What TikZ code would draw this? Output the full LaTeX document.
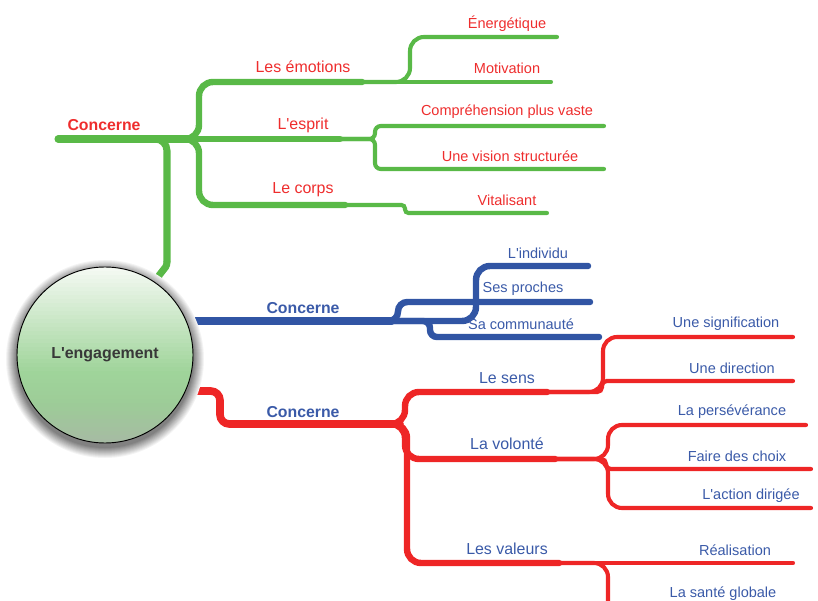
\documentclass[tikz,border=0pt]{standalone}
\usepackage{fontspec}
\setmainfont{Liberation Sans}
\definecolor{mgreen}{HTML}{59B947}
\definecolor{mred}{HTML}{EE2626}
\definecolor{mblue}{HTML}{3155A4}
\definecolor{tred}{HTML}{EE2D2D}
\definecolor{tblue}{HTML}{3A5AA8}
\definecolor{hubtop}{HTML}{F4F9F2}
\definecolor{hubmid}{HTML}{9FD49A}
\definecolor{hubmidb}{HTML}{9DCB98}
\definecolor{hubbot}{HTML}{A6BBA3}
\begin{document}
\begin{tikzpicture}[x=0.03cm, y=-0.03cm, line cap=round,
  gmain/.style={mgreen, line width=6pt, rounded corners=10pt},
  gthick/.style={mgreen, line width=5.5pt, rounded corners=12pt},
  gthin/.style={mgreen, line width=3.5pt, rounded corners=12pt},
  bmain/.style={mblue, line width=6pt},
  bthick/.style={mblue, line width=5.5pt, rounded corners=12pt},
  rmain/.style={mred, line width=6.5pt, rounded corners=8pt},
  rthick/.style={mred, line width=5.5pt, rounded corners=12pt},
  rthin/.style={mred, line width=3.5pt, rounded corners=12pt},
  lvl/.style={font=\fontsize{13.6}{16}\selectfont},
  leaf/.style={font=\fontsize{12.4}{15}\selectfont},
  rel/.style={font=\bfseries\fontsize{13.5}{16}\selectfont},
  hub/.style={circle, draw=black, line width=0.8pt, minimum size=5.28cm, inner sep=0pt,
    text=black!78, font=\bfseries\fontsize{13.6}{16}\selectfont}]
\useasboundingbox (0,0) rectangle (818,601);

\coordinate (g-s) at (58,139);
\coordinate (g-k) at (150,139);
\coordinate (g-j0) at (180,139);
\coordinate (g-j) at (193,139);
\coordinate (g-d) at (167,262);
\coordinate (g-f) at (158,280);
\coordinate (g-e) at (158,300);
\coordinate (emo-a) at (199,82);
\coordinate (emo-b) at (362,82);
\coordinate (mot-b) at (551,82);
\coordinate (ener-a) at (410,37);
\coordinate (ener-b) at (557,37);
\coordinate (esp-b) at (340,139);
\coordinate (comp-a) at (375,126);
\coordinate (comp-b) at (604,126);
\coordinate (vis-a) at (375,169);
\coordinate (vis-b) at (604,169);
\coordinate (corps-a) at (199,205);
\coordinate (corps-b) at (345,205);
\coordinate (vit-a) at (405,213);
\coordinate (vit-b) at (547,213);

\coordinate (b-s) at (150,321);
\coordinate (b-j0) at (380,321);
\coordinate (b-j) at (392,321);
\coordinate (proch-a) at (398,302);
\coordinate (proch-b) at (590,302);
\coordinate (indiv-a) at (476,266);
\coordinate (indiv-b) at (588,266);
\coordinate (comm-a) at (430,337);
\coordinate (comm-b) at (599,337);

\coordinate (r-s) at (150,391);
\coordinate (r-d) at (220,424);
\coordinate (r-j0) at (385,424);
\coordinate (r-j) at (400,424);
\coordinate (sens-a) at (405,392);
\coordinate (sens-b) at (547,392);
\coordinate (sig-a) at (603,337);
\coordinate (sig-b) at (793,337);
\coordinate (dir-a) at (602,381);
\coordinate (dir-b) at (793,381);
\coordinate (vol-a) at (405,459);
\coordinate (vol-b) at (555,459);
\coordinate (pers-a) at (608,425);
\coordinate (pers-b) at (806,425);
\coordinate (choix-a) at (606,469);
\coordinate (choix-b) at (811,469);
\coordinate (act-a) at (608,508);
\coordinate (act-b) at (811,508);
\coordinate (val-a) at (407,563);
\coordinate (val-b) at (559,563);
\coordinate (real-b) at (793,563);
\coordinate (sante-a) at (608,615);

\draw[gmain] (g-s) -- (g-j);
\draw[gmain] (g-k) -| (g-d);
\draw[gmain, sharp corners] (g-d) to[out=-90, in=90] (g-f) -- (g-e);
\draw[gthick] (g-j0) -| (emo-a) -- (emo-b);
\draw[gthin] (emo-b) -- (mot-b);
\draw[gthin] (emo-b) -| (ener-a) -- (ener-b);
\draw[gthick] (g-j) -- (esp-b);
\draw[gthin, rounded corners=5pt] (esp-b) -| (comp-a) -- (comp-b);
\draw[gthin, rounded corners=5pt] (esp-b) -| (vis-a) -- (vis-b);
\draw[gthick] (g-j0) -| (corps-a) -- (corps-b);
\draw[gthin, rounded corners=3pt] (corps-b) -| (vit-a) -- (vit-b);

\draw[bmain] (b-s) -- (b-j);
\draw[bthick, rounded corners=8pt] (b-j0) -| (proch-a) -- (proch-b);
\draw[bthick] (b-j0) -| (indiv-a) -- (indiv-b);
\draw[bthick, rounded corners=6pt] (b-j0) -| (comm-a) -- (comm-b);

\draw[rmain] (r-s) -| (r-d) -- (r-j);
\draw[rthick] (r-j0) -| (sens-a) -- (sens-b);
\draw[rthick] (r-j0) -| (vol-a) -- (vol-b);
\draw[rthick] (r-j0) -| (val-a) -- (val-b);
\draw[rthin] (sens-b) -| (sig-a) -- (sig-b);
\draw[rthin, rounded corners=4pt] (sens-b) -| (dir-a) -- (dir-b);
\draw[rthin] (vol-b) -| (pers-a) -- (pers-b);
\draw[rthin, rounded corners=4pt] (vol-b) -| (choix-a) -- (choix-b);
\draw[rthin] (vol-b) -| (act-a) -- (act-b);
\draw[rthin] (val-b) -- (real-b);
\draw[rthin] (val-b) -| (sante-a);

\coordinate (shd) at (105,359);
\coordinate (eng-c) at (105,355);
\foreach \i in {1,...,11} {
  \pgfmathsetmacro\rr{2.64+0.03*(12-\i)}
  \pgfmathsetmacro\cc{4.5*\i}
  \fill[black!\cc] (shd) circle (\rr cm);
}
\begin{scope}
\clip (eng-c) circle (2.64cm);
\foreach \k in {0,...,43} {
  \pgfmathsetmacro\tt{\k/43}
  \pgfmathsetmacro\pa{min(100,100*\tt/0.6)}
  \pgfmathsetmacro\qb{100-max(0,min(100,100*(\tt-0.6)/0.2))}
  \pgfmathsetmacro\qc{100-max(0,100*(\tt-0.8)/0.2)}
  \pgfmathsetmacro\yy{267+4*\k}
  \fill[hubmid!\pa!hubtop!\qb!hubmidb!\qc!hubbot] (17,\yy) rectangle (193,\yy+4.6);
}
\end{scope}
\node[hub] (eng) at (eng-c) {L\textquotesingle engagement};

\node[rel, text=tred] (g-rel) at (104,125) {Concerne};
\node[lvl, text=tred] (emo) at (303,67) {Les émotions};
\node[leaf, text=tred] (ener) at (507,24) {Énergétique};
\node[leaf, text=tred] (mot) at (507,68) {Motivation};
\node[lvl, text=tred] (esp) at (303,125) {L\textquotesingle esprit};
\node[leaf, text=tred] (comp) at (507,112) {Compréhension plus vaste};
\node[leaf, text=tred] (vis) at (510,156) {Une vision structurée};
\node[lvl, text=tred] (corps) at (303,190) {Le corps};
\node[leaf, text=tred] (vit) at (507,200) {Vitalisant};

\node[rel, text=tblue] (b-rel) at (303,308) {Concerne};
\node[leaf, text=tblue] (indiv) at (538,253) {L\textquotesingle individu};
\node[leaf, text=tblue] (proch) at (523,289) {Ses proches};
\node[leaf, text=tblue] (comm) at (521,324) {Sa communauté};

\node[rel, text=tblue] (r-rel) at (303,412) {Concerne};
\node[lvl, text=tblue] (sens) at (507,378) {Le sens};
\node[lvl, text=tblue] (vol) at (507,444) {La volonté};
\node[lvl, text=tblue] (val) at (507,549) {Les valeurs};
\node[leaf, text=tblue] (sig) at (726,324) {Une signification};
\node[leaf, text=tblue] (dir) at (732,368) {Une direction};
\node[leaf, text=tblue] (pers) at (732,412) {La persévérance};
\node[leaf, text=tblue] (choix) at (737,456) {Faire des choix};
\node[leaf, text=tblue] (act) at (751,496) {L\textquotesingle action dirigée};
\node[leaf, text=tblue] (real) at (735,550) {Réalisation};
\node[leaf, text=tblue] (sante) at (723,594) {La santé globale};
\end{tikzpicture}
\end{document}
